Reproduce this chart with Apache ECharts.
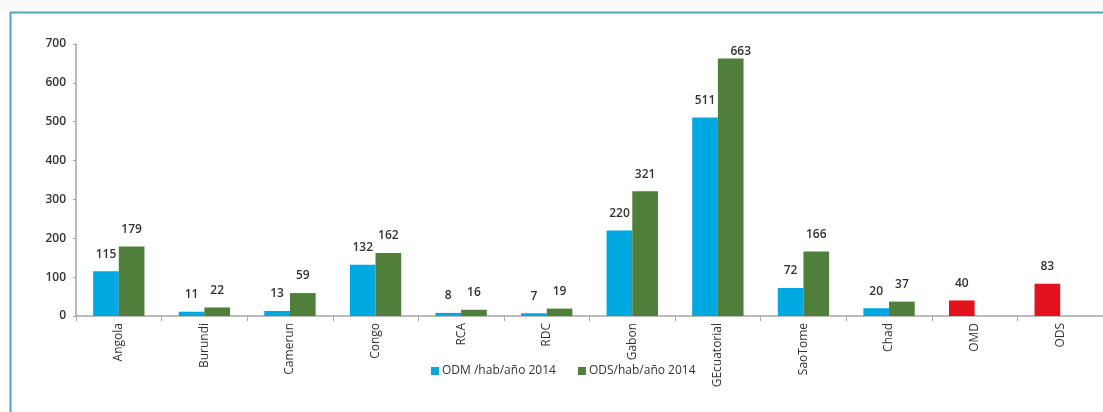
<!DOCTYPE html>
<html>
<head>
<meta charset="utf-8">
<script src="https://cdn.jsdelivr.net/npm/echarts@6/dist/echarts.min.js"></script>
<style>
html,body{margin:0;padding:0;background:#fff;}
#c{width:1103px;height:412px;}
</style>
</head>
<body>
<div id="c"></div>
<script>
const categories = ['Angola','Burundi','Camerun','Congo','RCA','RDC','Gabon','GEcuatorial','SaoTome','Chad','OMD','ODS'];
const odmValues = [115, 11, 13, 132, 8, 7, 220, 511, 72, 20, 40, 83];
const odsValues = [179, 22, 59, 162, 16, 19, 321, 663, 166, 37, null, null];
const redCategories = ['OMD','ODS'];
const yTicks = [0, 100, 200, 300, 400, 500, 600, 700];
const seriesNames = ['ODM /hab/año 2014', 'ODS/hab/año 2014'];

const BLUE = '#00a8e1', GREEN = '#4f7f3a', RED = '#e3121f', TEAL = '#4ea5b6';

const odmData = odmValues.map((v, i) => redCategories.includes(categories[i])
  ? { value: v, itemStyle: { color: RED } } : v);
const odsData = odsValues.map((v, i) => categories[i] === 'GEcuatorial'
  ? { value: v, label: { offset: [10, 10] } } : v);

const chart = echarts.init(document.getElementById('c'), null, { renderer: 'canvas' });
const labelStyle = { show: true, position: 'top', distance: 11, fontSize: 12, color: '#333', fontFamily: 'Open Sans', fontWeight: 600 };
chart.setOption({
  animation: false,
  backgroundColor: '#fff',
  textStyle: { fontFamily: 'Open Sans' },
  graphic: [
    { type: 'rect', shape: { x: 0, y: 0, width: 1103, height: 12 }, style: { fill: '#f9f9f9' } },
    { type: 'line', shape: { x1: 10, y1: 12.5, x2: 1103, y2: 12.5 }, style: { stroke: TEAL, lineWidth: 2 } },
    { type: 'line', shape: { x1: 10.5, y1: 12, x2: 10.5, y2: 412 }, style: { stroke: TEAL, lineWidth: 2 } }
  ],
  legend: {
    data: seriesNames,
    left: 426, top: 360,
    itemWidth: 8, itemHeight: 8, itemGap: 22,
    textStyle: { fontSize: 12, color: '#333', fontFamily: 'Open Sans', padding: [0, 0, 0, -2] },
    icon: 'rect'
  },
  grid: { left: 76, right: -8, top: 44, bottom: 96, containLabel: false },
  xAxis: {
    type: 'category',
    data: categories,
    axisLine: { lineStyle: { color: '#a6a6a6', width: 1.5 } },
    axisTick: { show: true, length: 5, lineStyle: { color: '#a6a6a6' } },
    axisLabel: { rotate: 90, fontSize: 12, color: '#333', margin: 7, interval: 0 }
  },
  yAxis: {
    type: 'value',
    min: 0, max: 700, interval: 100,
    axisLine: { show: true, lineStyle: { color: '#a6a6a6', width: 1.5 } },
    axisTick: { show: true, length: 3, lineStyle: { color: '#a6a6a6' } },
    splitLine: { show: false },
    axisLabel: { fontSize: 12, color: '#333', margin: 10, fontWeight: 600,
      formatter: v => yTicks.includes(v) ? String(v) : '' }
  },
  series: [
    { name: seriesNames[0], type: 'bar', data: odmData, barWidth: '30%', barGap: '0%',
      itemStyle: { color: BLUE }, label: labelStyle },
    { name: seriesNames[1], type: 'bar', data: odsData, barWidth: '30%', barGap: '0%',
      itemStyle: { color: GREEN }, label: labelStyle }
  ]
});
</script>
</body>
</html>
